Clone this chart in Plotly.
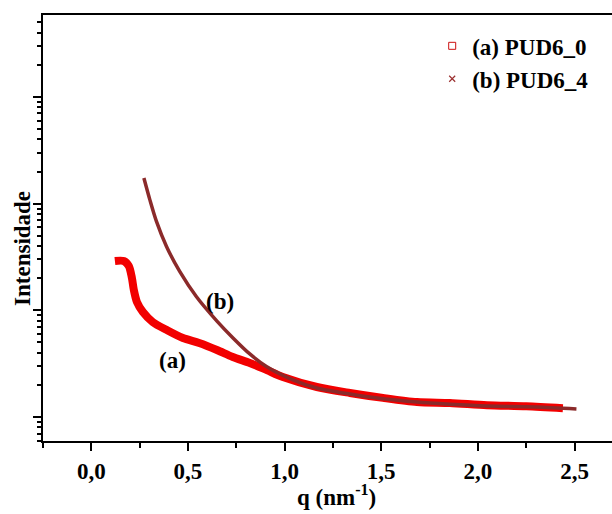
import plotly.graph_objects as go

# Series (a) PUD6_0
q_a = [0.122, 0.168, 0.194, 0.210, 0.220, 0.236, 0.267, 0.318, 0.391, 0.474, 0.558, 0.650,
       0.732, 0.820, 0.908, 0.991, 1.167, 1.338, 1.509, 1.685, 1.855, 2.047, 2.250, 2.440]
I_a = [28.97, 28.97, 26.0, 20.1, 15.5, 11.97, 9.64, 7.76, 6.53, 5.50, 4.94, 4.25,
       3.65, 3.21, 2.75, 2.37, 1.91, 1.68, 1.51, 1.38, 1.35, 1.29, 1.26, 1.21]

# Series (b) PUD6_4
q_b = [0.272, 0.303, 0.337, 0.389, 0.458, 0.544, 0.650, 0.733, 0.820, 0.908, 1.043,
       1.167, 1.338, 1.509, 1.685, 1.855, 2.047, 2.300, 2.510]
I_b = [173.8, 108.4, 68.1, 39.7, 23.0, 13.4, 7.93, 5.51, 3.90, 2.96, 2.23,
       1.87, 1.64, 1.48, 1.38, 1.32, 1.27, 1.24, 1.19]

x_ticks = [0.0, 0.5, 1.0, 1.5, 2.0, 2.5]

FONT = "Liberation Serif, Times New Roman, serif"
FS = 23

fig = go.Figure()
fig.add_trace(go.Scatter(x=q_a, y=I_a, mode="lines", line=dict(color="#f20000", width=8, shape="spline", smoothing=0.8),
                         showlegend=False, hoverinfo="skip"))
fig.add_trace(go.Scatter(x=q_b, y=I_b, mode="lines", line=dict(color="#8b2a2a", width=3.5, shape="spline", smoothing=0.8),
                         showlegend=False, hoverinfo="skip"))
fig.add_trace(go.Scatter(x=[None], y=[None], mode="markers", name="(a) PUD6_0",
                         marker=dict(symbol="square-open", size=7, color="#cc1111", line=dict(width=1))))
fig.add_trace(go.Scatter(x=[None], y=[None], mode="markers", name="(b) PUD6_4",
                         marker=dict(symbol="x-thin-open", size=6, color="#9b3030", line=dict(width=1.2, color="#9b3030"))))

fig.update_layout(
    width=612, height=514,
    margin=dict(l=43, r=0, t=15, b=73),
    paper_bgcolor="white", plot_bgcolor="white",
    separators=",.",
    font=dict(family=FONT, size=FS, color="black", weight="bold"),
    legend=dict(x=0.684, y=0.978, xanchor="left", yanchor="top",
                bgcolor="rgba(0,0,0,0)", font=dict(family=FONT, size=FS, weight="bold"),
                tracegroupgap=0, itemwidth=30),
    xaxis=dict(range=[-0.25, 2.694], tickvals=x_ticks, tickformat=".1f",
               showline=True, linecolor="black", linewidth=2, mirror=True,
               ticks="outside", ticklen=8, tickwidth=2, tickcolor="black",
               minor=dict(dtick=0.25, ticks="outside", ticklen=5, tickwidth=2, tickcolor="black", showgrid=False),
               showgrid=False, zeroline=False,
               tickfont=dict(family=FONT, size=FS, weight="bold")),
    yaxis=dict(type="log", range=[-0.225, 3.768], dtick=1,
               showline=True, linecolor="black", linewidth=2, mirror=False,
               ticks="outside", ticklen=8, tickwidth=2, tickcolor="black",
               minor=dict(dtick="D1", ticks="outside", ticklen=4, tickwidth=2, tickcolor="black", showgrid=False),
               showticklabels=False, showgrid=False, zeroline=False),
    annotations=[
        dict(text="Intensidade", xref="paper", yref="paper", x=-0.037, y=0.453, textangle=-90,
             xanchor="center", yanchor="middle",
             showarrow=False, font=dict(family=FONT, size=FS, weight="bold")),
        dict(text="q (nm<sup>-1</sup>)", xref="paper", yref="paper", x=0.515, y=-0.127,
             xanchor="center", yanchor="middle",
             showarrow=False, font=dict(family=FONT, size=FS, weight="bold")),
        dict(text="(b)", x=0.665, y=1.087, xref="x", yref="y", showarrow=False,
             font=dict(family=FONT, size=FS, weight="bold")),
        dict(text="(a)", x=0.422, y=0.534, xref="x", yref="y", showarrow=False,
             font=dict(family=FONT, size=FS, weight="bold")),
    ],
)

fig.write_html("out.html")
